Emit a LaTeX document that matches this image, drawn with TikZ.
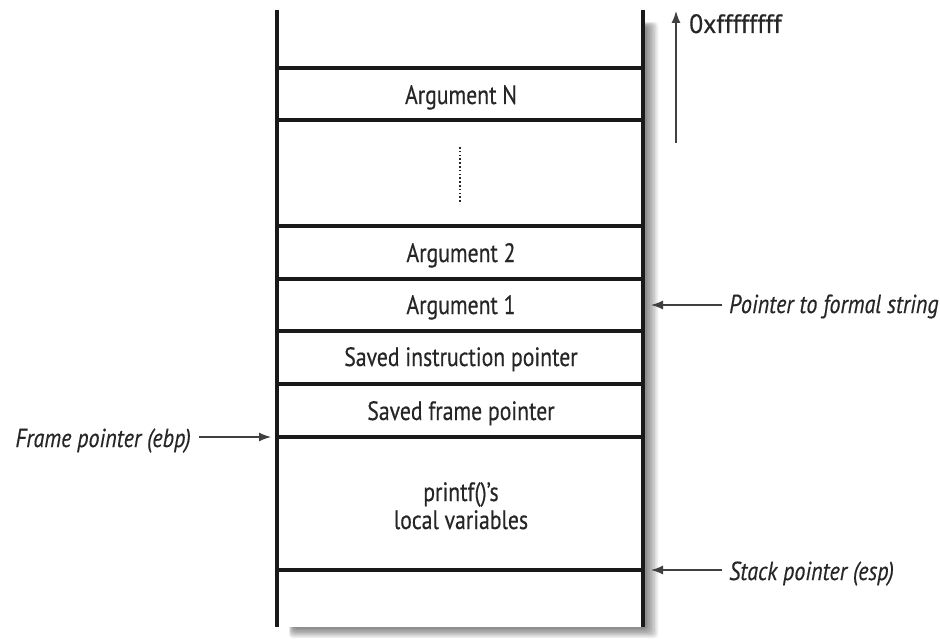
\documentclass[tikz,border=0pt]{standalone}
\usepackage{fontspec}
\setmainfont[FakeStretch=0.82,FakeBold=0.4]{PT Sans}
\newfontfamily\labfont[FakeStretch=0.85,FakeBold=0.4]{PT Sans Italic}
\usetikzlibrary{arrows.meta}
\begin{document}
\begin{tikzpicture}[x=1pt,y=-1pt,
  wall/.style={line width=3.2pt,black!90},
  sep/.style={line width=3.2pt,black!90},
  cell/.style={font=\fontsize{26.5}{28}\selectfont,text=black!85,inner sep=0pt,anchor=base},
  lab/.style={font=\fontsize{26}{28}\labfont,text=black!85,inner sep=0pt},
  ptr/.style={line width=1.3pt,black!75,-{Latex[length=12pt,width=9pt]}}]
\useasboundingbox (0,0) rectangle (940,639);
% soft shadow
\foreach \i in {0,...,7}{
  \fill[black,opacity=0.07,rounded corners=4pt]
    (289+\i*0.6,22+\i*0.6) rectangle (658-\i*1.6,638-\i*1.3);
}
\fill[white] (277,8) rectangle (643,627);
% walls
\draw[wall] (277,10) -- (277,627);
\draw[wall] (643,10) -- (643,627);
% separators
\foreach \yy in {68,120,226,279,331,384,437,570}{
  \draw[sep] (277,\yy) -- (643,\yy);
}
% cells
\node[cell] (argn) at (461,104) {Argument N};
\draw[line width=2.6pt,black!85,dash pattern=on 1.6pt off 2.2pt] (460,147) -- (460,204);
\node[cell] (arg2) at (461,262) {Argument 2};
\node[cell] (arg1) at (461,314) {Argument 1};
\node[cell] (sip) at (461,366) {Saved instruction pointer};
\node[cell] (sfp) at (461,420) {Saved frame pointer};
\node[cell] (loc1) at (461,501) {printf()’s};
\node[cell] (loc2) at (461,529) {local variables};
% coordinates on the stack edges
\coordinate (rarg1) at (651,305);
\coordinate (resp) at (651,570);
\coordinate (lebp) at (271,437);
\coordinate (upbot) at (676,143);
\coordinate (uptop) at (676,11);
% labels
\node[lab,anchor=base west] (fmt) at (729,313) {Pointer to formal string};
\node[lab,anchor=base west] (esp) at (729,580) {Stack pointer (esp)};
\node[lab,anchor=base east] (ebp) at (191,447) {Frame pointer (ebp)};
\node[cell,anchor=base west] (top) at (689,33) {\scalebox{1.18}[1]{0xffffffff}};
% arrows
\path (fmt.west) ++(-7,0) coordinate (fmtA);
\path (esp.west) ++(-7,0) coordinate (espA);
\path (ebp.east) ++(8,0) coordinate (ebpA);
\draw[ptr] (fmtA |- rarg1) -- (rarg1);
\draw[ptr] (espA |- resp) -- (resp);
\draw[ptr] (ebpA |- lebp) -- (lebp);
\draw[ptr] (upbot) -- (uptop);
\end{tikzpicture}
\end{document}
